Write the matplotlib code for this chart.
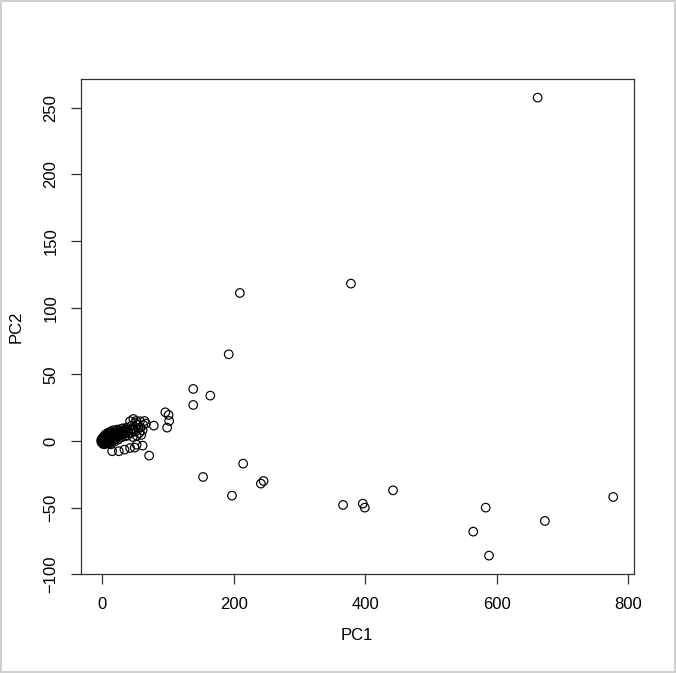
import matplotlib
matplotlib.use("Agg")
import matplotlib.pyplot as plt
import numpy as np

# Dense cluster near origin
cluster_pc1 = [-2, -1.5, -1, -0.5, 0, 0, 0.5, 1, 1, 1.5, 2, 2, 2.5, 3, 3, 3.5, 4, 4, 5, 5,
               5.5, 6, 6, 7, 7, 7.5, 8, 8, 9, 9, 10, 10, 11, 11, 12, 12, 13, 13, 14, 14,
               15, 15, 16, 17, 17, 18, 19, 20, 20, 21, 22, 22, 23, 24, 25, 25, 26, 27, 28, 29,
               30, 30, 31, 32, 33, 34, 35, 36, 37, 38, 39, 40, 9.6, 4.6,
               14.7, 24.8, 33.4, 42, 52, 49, 61,
               42, 49.7, 57, 54.6, 47.6, 47, 51, 64, 66, 61, 59, 78, 44,
               43, 45, 50, 52, 56, 58, 62, 46, 53]
cluster_pc2 = [0.5, -1, 1.5, -0.5, 0, 2, -2, 1, -1, 3, 0, -2.5, 2, -1, 4, 1, -2, 2.5, 0.5, 5,
               -1.5, 3.5, 1, -2, 4.5, 2, 0, 6, 3, -1, 1.5, 5.5, -1.5, 3.5, 7, 1, 4, -2.5, 2.5, 6.5,
               0.5, 4.5, 8, 2, 5.5, -0.5, 4, 7.5, 1.5, 5, 3, 8.5, 6, 1, 4.5, 8, 6.5, 2.5, 9, 5,
               7, 3, 9.5, 5.5, 7.5, 3.5, 8.5, 6, 10, 4, 7.5, 6, 6, 3.5,
               -7.7, -7.7, -6.5, -5.3, -2.8, -5, -3.5,
               14.8, 13.5, 14.8, 9.8, 8.5, 16.5, 15, 15, 13, 8, 4.5, 11.5, 11.5,
               6, 9, 7, 4, 6, 10, 12, 3, 12]

# Scattered points
outlier_pc1 = [95.6, 100.5, 101.4, 98.3, 71, 138, 138, 164, 192, 209, 214, 153, 197,
               245, 241, 366, 396, 399, 442, 564, 583, 588, 673, 777, 662, 378]
outlier_pc2 = [21.5, 19.5, 15, 10, -11, 39, 27, 34, 65, 111, -17, -27, -41,
               -30, -32, -48, -47, -50, -37, -68, -50, -86, -60, -42, 257.5, 118]

pc1 = np.array(cluster_pc1 + outlier_pc1)
pc2 = np.array(cluster_pc2 + outlier_pc2)

xticks = [0, 200, 400, 600, 800]
yticks = [-100, -50, 0, 50, 100, 150, 200, 250]

plt.rcParams['font.family'] = ['Liberation Sans', 'DejaVu Sans']

fig = plt.figure(figsize=(6.76, 6.73), dpi=100, linewidth=1.5, edgecolor='#d0d0d0')
ax = fig.add_axes([80.7 / 676, 1 - 574.3 / 673, (633.7 - 80.7) / 676, (574.3 - 79.3) / 673])

ax.scatter(pc1, pc2, s=38, facecolors='none', edgecolors='black', linewidths=0.85)

def padded(v):
    lo, hi = v.min(), v.max()
    w = hi - lo
    return lo - 0.04 * w, hi + 0.04 * w

ax.set_xlim(*padded(pc1))
ax.set_ylim(*padded(pc2))

ax.set_xticks(xticks)
ax.set_xticklabels([str(t) for t in xticks])
ax.set_yticks(yticks)
ax.set_yticklabels([str(t).replace('-', '\u2212') for t in yticks], rotation=90, va='center')

ax.tick_params(axis='both', direction='out', length=7, width=0.9, labelsize=12,
               pad=9, color='#333333')
for s in ax.spines.values():
    s.set_linewidth(0.9)
    s.set_color('#333333')

ax.set_xlabel('PC1', fontsize=12)
ax.set_ylabel('PC2', fontsize=12)
ax.xaxis.set_label_coords(0.5, (574.3 - 628) / 495)
ax.yaxis.set_label_coords((23.3 - 80.7) / 553, 0.5)

fig.savefig('out.png', dpi=100)
